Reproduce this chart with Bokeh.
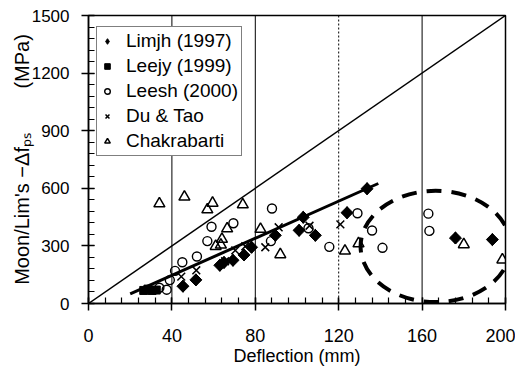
from bokeh.plotting import figure
from bokeh.models import (Span, Legend, LegendItem, Range1d,
                          SingleIntervalTicker)
from bokeh.embed import file_html
from bokeh.resources import INLINE

# ---------------- data ----------------
limjh_x = [45.3, 51.5, 63.0, 65.0, 69.3, 74.6, 78.2, 89.6, 101.0, 103.0, 108.8, 124.0, 133.6, 176.0, 193.7]
limjh_y = [90, 123, 199, 214, 225, 253, 293, 355, 381, 449, 355, 473, 598, 341, 333]

leejy_x = [26.5, 28.5, 30.5, 32.5]
leejy_y = [68, 75, 68, 70]

leesh_x = [34.0, 37.5, 39.0, 41.5, 45.0, 52.0, 57.0, 59.0, 69.5, 88.0, 87.5, 105.5, 115.5, 129.0, 136.0, 141.0, 163.0, 163.5]
leesh_y = [82, 72, 122, 170, 215, 245, 325, 400, 418, 495, 325, 392, 295, 470, 380, 290, 468, 378]

dutao_x = [44.5, 51.7, 65.5, 70.4, 75.2, 84.8, 91.2, 106.0, 120.8]
dutao_y = [140, 173, 220, 277, 298, 293, 397, 405, 412]

chakra_x = [34.0, 46.0, 57.0, 59.5, 74.0, 66.5, 64.0, 61.0, 63.5, 82.5, 92.0, 123.0, 129.5, 180.0, 198.5]
chakra_y = [520, 555, 489, 523, 515, 390, 335, 298, 305, 387, 255, 274, 312, 307, 228]

series_labels = ["Limjh (1997)", "Leejy (1999)", "Leesh (2000)", "Du & Tao", "Chakrabarti"]

# equality line and fitted trend line
ref_x = [0, 200]
ref_y = [0, 1500]
fit_x = [20, 139]
fit_y = [50, 625]

# dashed ellipse around the large-deflection points
ell_x = [166.5]
ell_y = [297]
ell_w = [72]
ell_h = [580]

vline_solid = [40, 80, 160]
vline_dotted = [120]

x_label = "Deflection (mm)"
y_label = "Moon/Lim's \u2212\u0394f\u209a\u209b" + "\u00a0" * 8 + "(MPa)"

FONT = "Liberation Sans"

p = figure(frame_width=417, frame_height=288, x_range=Range1d(0, 200), y_range=Range1d(0, 1500),
           output_backend="svg", toolbar_location=None,
           min_border_left=88, min_border_right=10, min_border_top=15, min_border_bottom=66)
p.xgrid.visible = False
p.ygrid.visible = False
p.outline_line_color = "black"
p.outline_line_width = 1.5
p.outline_line_alpha = 1.0
p.background_fill_color = "white"
p.border_fill_color = "white"

for ax in (p.xaxis[0], p.yaxis[0]):
    ax.axis_line_color = "black"
    ax.axis_line_width = 1.5
    ax.major_tick_line_color = "black"
    ax.major_tick_line_width = 1.5
    ax.minor_tick_line_color = "black"
    ax.minor_tick_line_width = 1.2
    ax.major_tick_out = 7
    ax.major_tick_in = 6
    ax.minor_tick_in = 6
    ax.minor_tick_out = 0
    ax.major_label_text_font = FONT
    ax.major_label_text_color = "black"
    ax.axis_label_text_font = FONT
    ax.axis_label_text_font_style = "normal"
    ax.axis_label_text_color = "black"

p.xaxis.ticker = SingleIntervalTicker(interval=40, num_minor_ticks=5)
p.yaxis.ticker = SingleIntervalTicker(interval=300, num_minor_ticks=5)
p.xaxis.major_label_text_font_size = "18px"
p.yaxis.major_label_text_font_size = "17px"
p.xaxis.major_label_standoff = 18
p.yaxis.major_label_standoff = 12
p.xaxis.axis_label = x_label
p.xaxis.axis_label_text_font_size = "18px"
p.xaxis.axis_label_standoff = 1
p.yaxis.axis_label = y_label
p.yaxis.axis_label_text_font_size = "20px"
p.yaxis.axis_label_standoff = -4

for xv in vline_solid:
    p.add_layout(Span(location=xv, dimension="height", line_color="black", line_width=1))
for xv in vline_dotted:
    p.add_layout(Span(location=xv, dimension="height", line_color="black", line_width=1,
                      line_dash="2 2"))

p.line(ref_x, ref_y, line_color="black", line_width=1.5)
p.line(fit_x, fit_y, line_color="black", line_width=3)
p.ellipse(x=ell_x, y=ell_y, width=ell_w, height=ell_h, fill_alpha=0,
          line_color="black", line_width=4, line_dash="15 10")

# diamond swatch used for the legend; in the plot it lies fully under the rotated squares
r1_key = p.scatter(limjh_x, limjh_y, marker="diamond", size=12, color="black")
r1 = p.scatter(limjh_x, limjh_y, marker="square", angle=0.7854, size=8.5, color="black")
r2 = p.scatter(leejy_x, leejy_y, marker="square", size=8, color="black")
r3 = p.scatter(leesh_x, leesh_y, marker="circle", size=9, fill_alpha=0,
               line_color="black", line_width=1.4)
r4 = p.scatter(dutao_x, dutao_y, marker="x", size=11, line_color="black", line_width=1.5)
r5 = p.scatter(chakra_x, chakra_y, marker="triangle", size=11, fill_alpha=0,
               line_color="black", line_width=1.5)

legend = Legend(items=[LegendItem(label=lab, renderers=[r])
                       for lab, r in zip(series_labels, [r1_key, r2, r3, r4, r5])],
                location=(8, 147))
legend.label_text_font = FONT
legend.label_text_font_size = "19px"
legend.label_text_color = "black"
legend.border_line_color = "black"
legend.border_line_width = 1.5
legend.background_fill_color = "white"
legend.background_fill_alpha = 1.0
legend.padding = 3
legend.spacing = 3
legend.glyph_width = 14
legend.glyph_height = 22
legend.label_height = 22
legend.label_standoff = 12
legend.margin = 0
p.add_layout(legend)

open("out.html", "w").write(file_html(p, INLINE))
